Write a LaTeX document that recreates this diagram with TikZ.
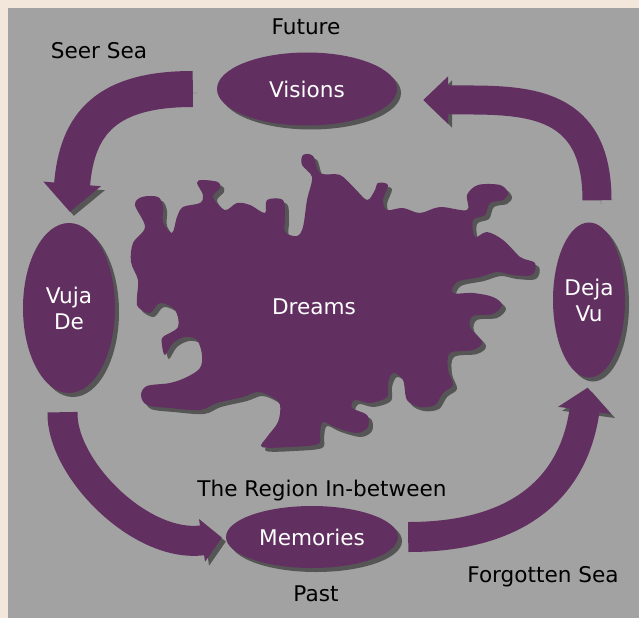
\documentclass[tikz,border=0pt]{standalone}
\usepackage{fontspec}
\setmainfont{DejaVu Sans}
\usepackage{tikz}
\usetikzlibrary{shapes.geometric, arrows.meta}
\definecolor{plum}{HTML}{613060}
\definecolor{frame}{HTML}{F3E7DC}
\definecolor{steel}{HTML}{A2A2A2}
\definecolor{shade}{HTML}{555555}

\begin{document}
\begin{tikzpicture}[
    x=1pt, y=-1pt,
    font=\fontsize{21.6}{26}\selectfont,
    shadowed/.style={preaction={fill=shade, transform canvas={shift={(4pt,-4pt)}}}},
    realm/.style={ellipse, fill=plum, text=white, inner sep=0pt, align=center, shadowed},
    flow/.style={draw=plum, preaction={draw=shade, transform canvas={shift={(4pt,-4pt)}}}},
    caption/.style={anchor=base, text=black}
  ]
    \useasboundingbox (0,0) rectangle (639,618);
    \fill[frame] (0,0) rectangle (639,618);
    \fill[steel] (8,8) rectangle (639,618);

    % the splash in the middle
    \fill[plum, shadowed] plot[smooth cycle, tension=0.55] coordinates {
      (133,243) (145,227) (135,205) (142,197) (158,197) (163,207) (163,222)
      (172,233) (177,217) (183,207) (200,203) (203,195) (197,183) (202,180)
      (218,182) (220,188) (213,197) (225,210) (237,203) (250,205) (265,213)
      (267,200) (283,200) (285,217) (285,232) (297,236) (303,227) (307,200)
      (312,177) (302,165) (303,155) (313,156) (320,173) (340,175) (353,187)
      (367,200) (375,190) (378,183) (388,185) (383,200) (387,210) (403,208)
      (420,213) (440,207) (467,210) (467,195) (478,185) (500,185) (508,193)
      (503,200) (490,203) (485,215) (473,220) (475,237) (487,232) (503,240)
      (520,257) (535,263) (532,275) (513,275) (497,272) (480,277) (457,282)
      (453,293) (473,293) (493,297) (502,305) (493,314) (473,316) (470,327)
      (482,342) (473,350) (450,353) (448,370) (453,385) (443,393) (435,405)
      (420,407) (407,400) (403,380) (393,373) (388,383) (387,397) (370,403)
      (355,400) (352,408) (367,415) (368,427) (357,433) (337,428) (323,422)
      (320,433) (318,444) (290,447) (262,447) (267,437) (278,422) (280,405)
      (272,397) (258,392) (243,397) (217,403) (200,410) (170,408) (147,405)
      (141,395) (147,386) (170,383) (187,377) (200,368) (202,355) (197,340)
      (185,337) (173,343) (165,355) (162,345) (163,337) (178,327) (175,310)
      (160,303) (150,313) (138,307) (137,297) (138,280) (131,262)};
    \node[text=white] (dreams) at (314,307) {Dreams};

    % the four realms
    \node[realm, minimum width=180pt, minimum height=73pt] (visions) at (307,89) {Visions};
    \node[realm, minimum width=92pt, minimum height=170pt] (vujade) at (69,308) {Vuja\\De};
    \node[realm, minimum width=72pt, minimum height=155pt] (dejavu) at (589,300) {Deja\\Vu};
    \node[realm, minimum width=172pt, minimum height=62pt] (memories) at (312,537) {Memories};

    % the cycle
    \draw[flow, line width=36pt, -{Triangle[width=56pt, length=28pt]},
          shorten <=24pt, shorten >=11pt]
      (visions.west) .. controls +(-110,0) and +(8,-100) .. (vujade.north);
    \draw[flow, line width=30pt, -{Triangle[width=42pt, length=20pt]},
          shorten <=19pt, shorten >=4pt]
      ([xshift=-6pt]vujade.south) .. controls +(-2,75) and +(-85,12) .. (memories.west);
    \draw[flow, line width=30pt, -{Triangle[width=52pt, length=23pt]},
          shorten <=10pt, shorten >=10pt]
      (memories.east) .. controls +(120,0) and +(-15,110) .. (dejavu.south);
    \draw[flow, line width=29pt, -{Triangle[width=46pt, length=25pt]},
          shorten <=22pt, shorten >=26pt]
      ([xshift=8pt]dejavu.north) .. controls +(0,-127) and +(123,0) .. ([yshift=-11pt]visions.east);

    % captions
    \node[caption] (future) at (306,35) {Future};
    \node[caption] (seersea) at (99,59) {Seer Sea};
    \node[caption] (between) at (322,496) {The Region In-between};
    \node[caption] (past) at (316,601) {Past};
    \node[caption] (forgotten) at (543,582) {Forgotten Sea};
  \end{tikzpicture}
\end{document}
